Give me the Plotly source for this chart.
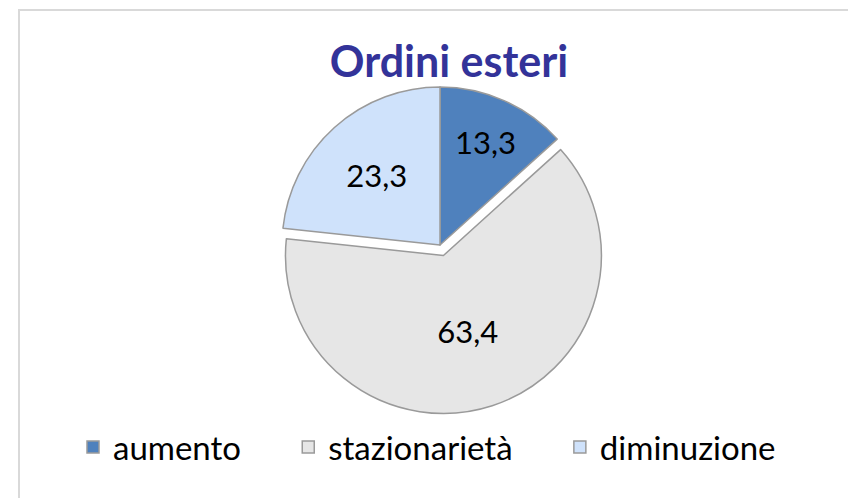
import plotly.graph_objects as go

W, H = 856, 498
PAGE_OFFSET = 8  # default body margin of the html page

CATEGORIES = ["aumento", "stazionarietà", "diminuzione"]
VALUES = [13.3, 63.4, 23.3]
LABELS = ["13,3", "63,4", "23,3"]
SLICE_COLORS = ["#4f81bd", "#e6e6e6", "#cfe2fb"]
PULL = [0, 0.07, 0]

FONT = "Lato, Calibri, Carlito, sans-serif"
NBSP = "\u00a0" * 5


def px_x(v):
    return (v - PAGE_OFFSET) / W


def px_y(v):
    return 1 - (v - PAGE_OFFSET) / H


fig = go.Figure(go.Pie(
    labels=[c + NBSP for c in CATEGORIES], values=VALUES, text=LABELS,
    textinfo="text", textposition="inside", insidetextorientation="horizontal",
    textfont=dict(family=FONT, size=31, color="#000000"),
    marker=dict(colors=SLICE_COLORS, line=dict(color="#9a9a9a", width=1.5)),
    pull=PULL, sort=False, direction="clockwise", rotation=0,
    domain=dict(x=[px_x(271), px_x(609)], y=[px_y(414), px_y(76)]),
    hoverinfo="label+value",
))

fig.update_layout(
    width=W, height=H,
    margin=dict(l=0, r=0, t=0, b=0),
    paper_bgcolor="white", plot_bgcolor="white",
    font=dict(family=FONT, color="#000000"),
    title=dict(
        text="<b>Ordini esteri</b>", x=px_x(449), xanchor="center",
        y=px_y(62), yanchor="middle", yref="container",
        font=dict(family=FONT, size=43, color="#333399"),
    ),
    legend=dict(
        orientation="h", x=px_x(73), xanchor="left", y=px_y(447), yanchor="middle",
        font=dict(family=FONT, size=33, color="#000000"),
        itemwidth=30, traceorder="normal",
    ),
    shapes=[dict(
        type="rect", xref="paper", yref="paper",
        x0=px_x(19), x1=1.05, y0=-0.05, y1=px_y(10),
        line=dict(color="#d9d9d9", width=2),
    )],
)

fig.write_html("out.html")
